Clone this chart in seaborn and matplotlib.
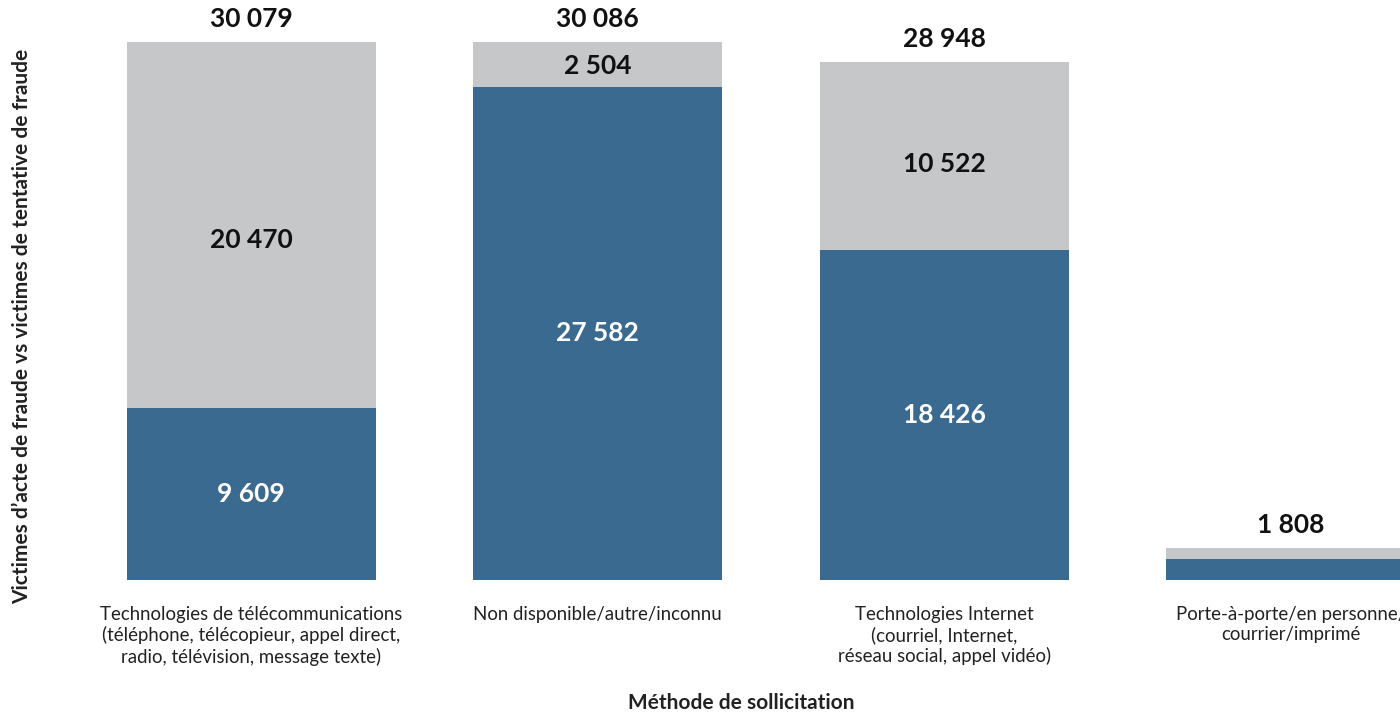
import matplotlib
matplotlib.use("Agg")
import matplotlib.pyplot as plt
import seaborn as sns
import pandas as pd

categories = [
    "Technologies de télécommunications\n(téléphone, télécopieur, appel direct,\nradio, télévision, message texte)",
    "Non disponible/autre/inconnu",
    "Technologies Internet\n(courriel, Internet,\nréseau social, appel vidéo)",
    "Porte-à-porte/en personne/\ncourrier/imprimé",
]
victimes = [9609, 27582, 18426, 1160]
tentatives = [20470, 2504, 10522, 648]
totaux = [30079, 30086, 28948, 1808]
show_segment_labels = [True, True, True, False]

BLUE = "#3b6a91"
GREY = "#c6c7c9"

sns.set_theme(style="white")
plt.rcParams["font.family"] = ["Lato", "DejaVu Sans"]

df = pd.DataFrame({"cat": categories, "vic": victimes, "tent": tentatives, "tot": totaux})

fig = plt.figure(figsize=(14, 7.14), dpi=100)
ax = fig.add_axes([78 / 1400, (714 - 580) / 714, 1386 / 1400, 572.4 / 714])

sns.barplot(data=df, x="cat", y="tot", color=GREY, width=0.72, saturation=1, ax=ax,
            order=categories, linewidth=0, edgecolor=GREY)
sns.barplot(data=df, x="cat", y="vic", color=BLUE, width=0.72, saturation=1, ax=ax,
            order=categories, linewidth=0, edgecolor=BLUE)

def fmt(v):
    return f"{v:,}".replace(",", " ")

for i, (v, t, tot, show) in enumerate(zip(victimes, tentatives, totaux, show_segment_labels)):
    if show:
        ax.text(i, v / 2, fmt(v), ha="center", va="center", color="white",
                fontsize=19, fontweight="bold")
        ax.text(i, v + t / 2 - 0.04 * t, fmt(t), ha="center", va="center", color="#111111",
                fontsize=19, fontweight="bold")
    ax.annotate(fmt(tot), (i, tot), xytext=(0, 8), textcoords="offset points",
                ha="center", va="bottom", color="#111111", fontsize=19, fontweight="bold")

ax.set_xlim(-0.5, 3.5)
ax.set_ylim(0, 32000)
ax.set_xlabel("")
ax.set_ylabel("")
ax.set_yticks([])
ax.tick_params(axis="x", length=0, pad=19, labelsize=13.4, labelcolor="#222222")
for s in ax.spines.values():
    s.set_visible(False)
ax.patch.set_alpha(0)

fig.text(741 / 1400, 1 - 703 / 714, "Méthode de sollicitation", ha="center", va="center",
         fontsize=15, fontweight="bold", color="#222222")
fig.text(22 / 1400, 1 - 326 / 714, "Victimes d\u2019acte de fraude vs victimes de tentative de fraude",
         ha="center", va="center", rotation=90, fontsize=15, fontweight="bold", color="#222222")

fig.savefig("out.png", dpi=100)
